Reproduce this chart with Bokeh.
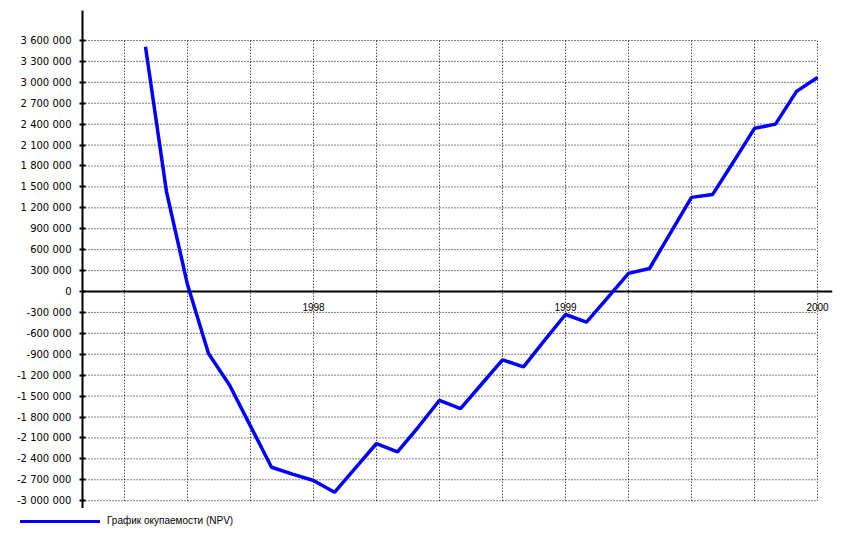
import pandas as pd
from bokeh.plotting import figure
from bokeh.layouts import column
from bokeh.models import Span, FixedTicker, ColumnDataSource, Div
from bokeh.core.properties import value
from bokeh.embed import file_html
from bokeh.resources import INLINE

# ---- data ----
months = pd.date_range("1997-05-01", "2000-01-01", freq="MS")
npv = [3510000, 1430000, 100000, -890000, -1340000, -1930000, -2520000, -2620000,
       -2710000, -2880000, -2530000, -2180000, -2300000, -1940000, -1560000, -1680000,
       -1330000, -980000, -1080000, -700000, -330000, -440000, -90000, 260000,
       330000, 840000, 1350000, 1390000, 1860000, 2340000, 2400000, 2870000, 3070000]
y_ticks = list(range(-3000000, 3600001, 300000))
year_labels = [1998, 1999, 2000]
legend_label = "График окупаемости (NPV)"

x_vals = [d.year + (d.month - 1) / 12 for d in months]
x_grid = [1997.25 + 0.25 * i for i in range(12)]
x_start, x_end = 1997 + 1 / 12, 2000.0595
y_start, y_end = -3112000, 4030000

p = figure(frame_width=750, frame_height=498, output_backend="svg", toolbar_location=None,
           x_range=(x_start, x_end), y_range=(y_start, y_end),
           x_axis_type=None, min_border_left=82, min_border_right=1,
           min_border_top=10, min_border_bottom=0)
p.outline_line_color = None
p.xgrid.visible = False
p.ygrid.visible = False

# y axis
ax = p.yaxis[0]
ax.ticker = FixedTicker(ticks=y_ticks)
ax.major_label_overrides = {v: f"{v:,}".replace(",", " ") for v in y_ticks}
ax.axis_line_width = 2
ax.major_tick_line_width = 2
ax.major_tick_in = 3
ax.major_tick_out = 3
ax.minor_tick_line_color = None
ax.major_label_standoff = 8
ax.major_label_text_font = "DejaVu Sans"
ax.major_label_text_font_size = "10px"
ax.major_label_text_color = "black"

# grid lines (dotted)
hy = [v for v in y_ticks if v != 0]
p.segment(x0=[x_start] * len(hy), y0=hy, x1=[2000] * len(hy), y1=hy,
          line_color="black", line_width=1, line_dash="1 2")
p.segment(x0=x_grid, y0=[y_ticks[0]] * len(x_grid), x1=x_grid, y1=[y_ticks[-1]] * len(x_grid),
          line_color="black", line_width=1, line_dash="1 2")

# zero line (x axis)
p.add_layout(Span(location=0, dimension="width", line_color="black", line_width=2, level="underlay"))

# year labels
src_y = ColumnDataSource(dict(x=year_labels, y=[0] * len(year_labels), t=[str(y) for y in year_labels]))
p.text(x="x", y="y", text="t", source=src_y, text_align="center", text_baseline="top",
       y_offset=11, text_font_size="10px", text_color="black",
       text_font=value("Liberation Sans"))

p.line(x_vals, npv, line_color="#0000FF", line_width=3.5)

# legend strip below the plot
legend_html = (
    '<div style="position:relative;width:833px;height:19px;margin:0;padding:0;">'
    '<div style="position:absolute;left:20px;top:12px;width:80px;height:3px;background:#0000FF;"></div>'
    '<span style="position:absolute;left:107px;top:7px;line-height:12px;white-space:nowrap;'
    'font-family:\'Liberation Sans\';font-size:10px;color:black;">' + legend_label + '</span>'
    '</div>'
)
lg = Div(text=legend_html, width=833, height=19, margin=0)

open("out.html", "w").write(file_html(column(p, lg, spacing=0), INLINE))
